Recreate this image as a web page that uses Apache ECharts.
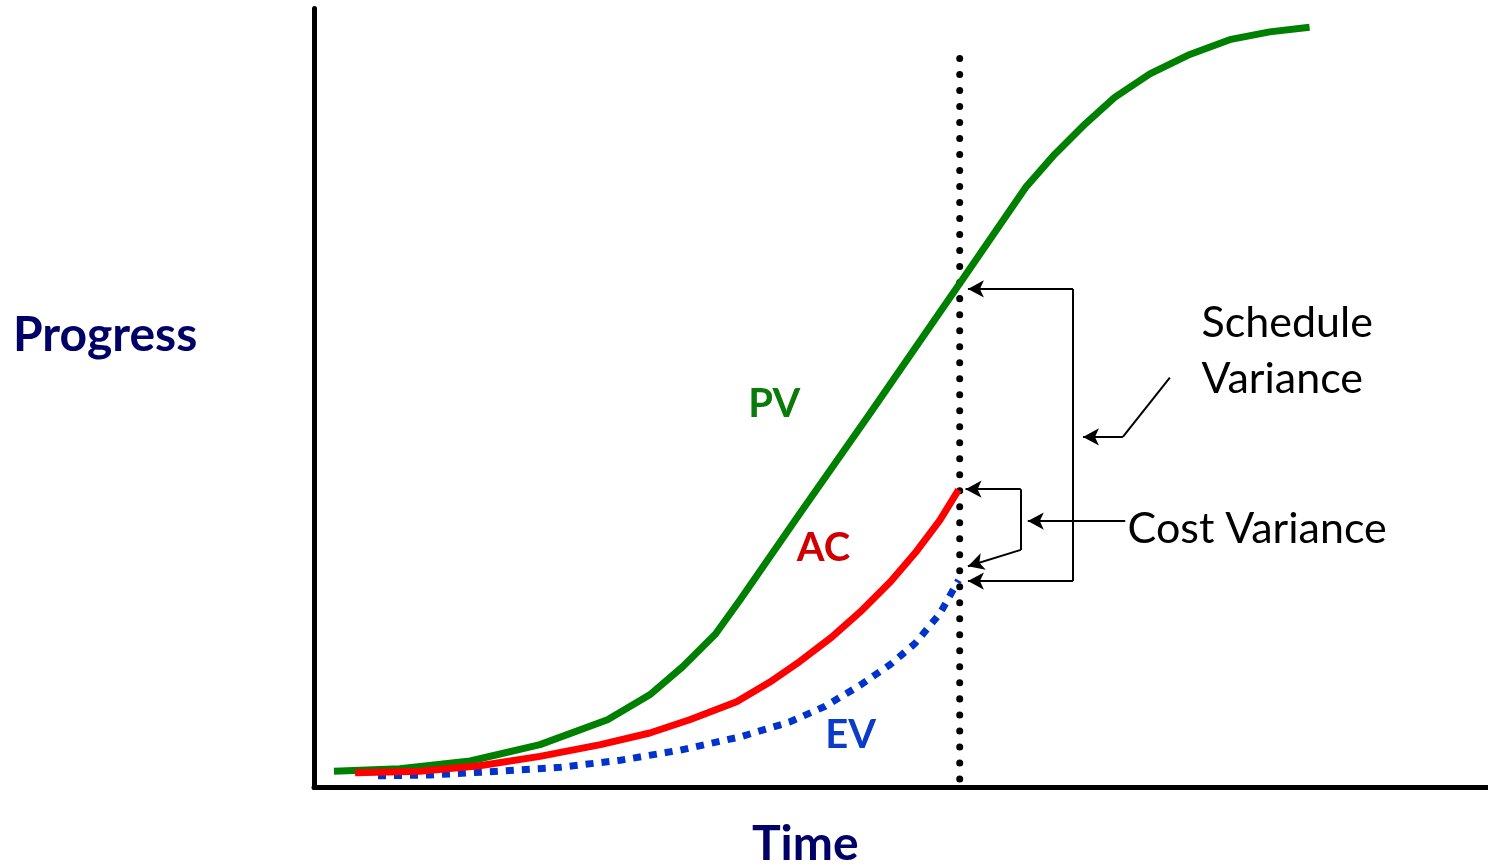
<!DOCTYPE html>
<html>
<head>
<meta charset="utf-8">
<script src="https://cdn.jsdelivr.net/npm/echarts@6/dist/echarts.min.js"></script>
<style>
  html, body { margin: 0; padding: 0; background: #fff; }
  #chart { width: 1488px; height: 866px; }
</style>
</head>
<body>
<div id="chart"></div>
<script>
// time (0-100) / progress (0-100) pairs
const pvData = [[1.7, 2.1], [7.3, 2.4], [13.3, 3.4], [19.25, 5.5], [25.0, 8.7], [28.6, 11.9],
  [31.4, 15.5], [34.2, 19.7], [36.3, 24.1], [41.4, 35.2], [47.4, 48.1], [55.0, 64.7],
  [60.6, 77.0], [63.1, 81.3], [65.7, 85.2], [68.2, 88.6], [71.2, 91.6], [74.6, 94.1],
  [78.0, 96.0], [81.4, 97.0], [84.8, 97.6]];
const acData = [[3.5, 1.9], [9.0, 2.1], [14.1, 2.8], [19.25, 4.0], [24.4, 5.5], [28.6, 7.0],
  [32.0, 8.7], [36.0, 11.0], [38.8, 13.5], [41.4, 16.2], [44.1, 19.3], [46.5, 22.5],
  [49.1, 26.4], [51.2, 30.1], [53.3, 34.3], [54.9, 38.2]];
const evData = [[5.45, 1.5], [9.9, 1.6], [15.8, 2.1], [21.0, 2.6], [26.1, 3.5], [31.2, 4.8],
  [36.3, 6.5], [40.5, 8.4], [43.5, 10.4], [46.5, 13.1], [49.1, 15.8], [51.2, 18.5],
  [53.3, 22.3], [54.9, 26.6]];
const statusDate = 55.0;
const statusLine = [[statusDate, 1.1], [statusDate, 93.6]];

// series labels
const seriesLabels = [
  { name: 'PV', at: [39.2, 49.2], color: '#0a7a0a' },
  { name: 'AC', at: [43.4, 30.7], color: '#d00000' },
  { name: 'EV', at: [45.7, 6.7], color: '#0a3cc8' }
];

// variance brackets: [from, to, arrowAtEnd]
const bracketSegments = [
  [[64.65, 64.0], [55.7, 64.0], true],
  [[64.65, 64.0], [64.65, 26.5], false],
  [[64.65, 26.5], [55.7, 26.5], true],
  [[68.9, 45.0], [65.5, 45.0], true],
  [[68.9, 45.0], [72.9, 52.6], false],
  [[60.2, 38.3], [55.5, 38.3], true],
  [[60.2, 38.3], [60.2, 30.5], false],
  [[60.2, 30.5], [55.7, 28.4], true],
  [[69.1, 34.2], [60.8, 34.2], true]
];
const varianceTexts = [
  { text: 'Schedule\nVariance', at: [75.6, 56.0] },
  { text: 'Cost Variance', at: [69.3, 33.2] }
];

const chart = echarts.init(document.getElementById('chart'));

const option = {
  animation: false,
  backgroundColor: '#fff',
  grid: { left: 314, right: 0, top: 8.5, bottom: 78.5 },
  xAxis: {
    type: 'value', min: 0, max: 100,
    axisLine: { show: true, lineStyle: { color: '#000', width: 5 } },
    axisTick: { show: false }, axisLabel: { show: false }, splitLine: { show: false }
  },
  yAxis: {
    type: 'value', min: 0, max: 100,
    axisLine: { show: true, lineStyle: { color: '#000', width: 5 } },
    axisTick: { show: false }, axisLabel: { show: false }, splitLine: { show: false }
  },
  graphic: [
    { type: 'text', left: 13, top: 312, style: { text: 'Progress', font: 'bold 48px Lato', fill: '#000066' } },
    { type: 'text', left: 752, top: 821, style: { text: 'Time', font: 'bold 48px Lato', fill: '#000066' } }
  ],
  series: [
    {
      type: 'line', data: statusLine, symbol: 'none', z: 1,
      lineStyle: { color: '#000', width: 7, type: [0.01, 16], cap: 'round' }
    },
    {
      type: 'line', data: pvData, symbol: 'none', z: 3,
      lineStyle: { color: '#008000', width: 7 }
    },
    {
      type: 'line', data: acData, symbol: 'none', z: 3,
      lineStyle: { color: '#ff0000', width: 7 }
    },
    {
      type: 'line', data: evData, symbol: 'none', z: 2,
      lineStyle: { color: '#0033cc', width: 7, type: [8, 8] }
    },
    {
      type: 'scatter', symbolSize: 0, z: 5,
      itemStyle: { opacity: 1 },
      data: seriesLabels.map(l => ({
        value: l.at,
        label: { show: true, position: 'inside', formatter: l.name, color: l.color, opacity: 1,
          fontFamily: 'Lato', fontWeight: 'bold', fontSize: 40 }
      })),
      markLine: {
        silent: true, animation: false,
        label: { show: false },
        lineStyle: { color: '#000', width: 2, type: 'solid' },
        symbolSize: [13, 16],
        data: bracketSegments.map(s => [
          { coord: s[0], symbol: 'none' },
          { coord: s[1], symbol: s[2] ? 'arrow' : 'none' }
        ])
      }
    },
    {
      type: 'scatter', symbolSize: 0, z: 5,
      itemStyle: { opacity: 1 },
      data: varianceTexts.map(t => ({
        value: t.at,
        label: { show: true, position: 'inside', align: 'left', formatter: t.text, color: '#000', opacity: 1,
          fontFamily: 'Lato', fontSize: 43, lineHeight: 56 }
      }))
    }
  ]
};

chart.setOption(option);
</script>
</body>
</html>
